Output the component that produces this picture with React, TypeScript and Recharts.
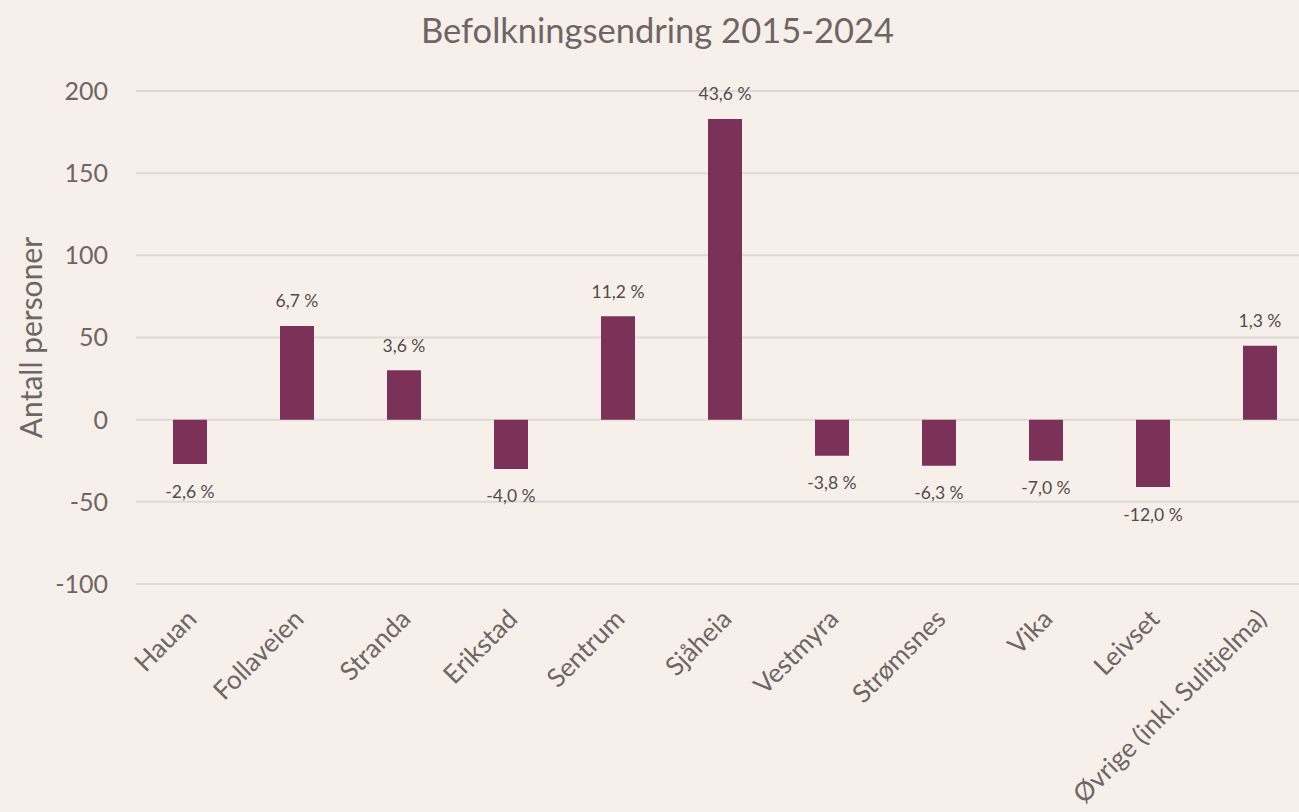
import React from 'react';
import { BarChart, Bar, XAxis, YAxis, CartesianGrid, LabelList } from 'recharts';

const categories = ['Hauan', 'Follaveien', 'Stranda', 'Erikstad', 'Sentrum', 'Sjåheia', 'Vestmyra', 'Strømsnes', 'Vika', 'Leivset', 'Øvrige (inkl. Sulitjelma)'];
const changes = [-27, 57, 30, -30, 63, 183, -22, -28, -25, -41, 45];
const pctLabels = ['-2,6 %', '6,7 %', '3,6 %', '-4,0 %', '11,2 %', '43,6 %', '-3,8 %', '-6,3 %', '-7,0 %', '-12,0 %', '1,3 %'];
const yTicks = [-100, -50, 0, 50, 100, 150, 200];

const data = categories.map((c, i) => ({ name: c, value: changes[i], pct: pctLabels[i] }));

const BG = '#F7F0EA';
const BAR = '#7B3158';
const TXT = '#6F6566';
const LBL = '#544B4C';
const FONT = 'Lato, "Open Sans", sans-serif';

const XTick = (props: any) => {
  const { x, y, payload } = props;
  return (
    <g transform={`translate(${x + 3},${y + 23})`}>
      <text x={0} y={0} dy={8} textAnchor="end" transform="rotate(-45)" fill={TXT} fontSize={26} fontFamily={FONT}>
        {payload.value}
      </text>
    </g>
  );
};

const renderLabel = (props: any) => {
  const { x, y, width, height, index, value } = props;
  const v = changes[index];
  const top = Math.min(y, y + height);
  const bot = Math.max(y, y + height);
  const cy = v >= 0 ? top - 25 : bot + 27;
  return (
    <text x={x + width / 2} y={cy} textAnchor="middle" dominantBaseline="central" fill={LBL} fontSize={17.5} fontFamily={FONT}>
      {value}
    </text>
  );
};

export default function App() {
  return (
    <div style={{ position: 'absolute', left: 0, top: 0, width: 1299, height: 812, overflow: 'hidden', background: BG }}>
      <div style={{ position: 'absolute', left: 0, top: 10, width: 1315, textAlign: 'center', fontFamily: FONT, fontSize: 34.5, color: TXT, lineHeight: '40px' }}>
        Befolkningsendring 2015-2024
      </div>
      <BarChart width={1320} height={812} data={data} margin={{ top: 91, right: 7, left: 0, bottom: 0 }} barSize={34}>
        <CartesianGrid vertical={false} stroke="#DEDAD8" strokeWidth={2} />
        <XAxis dataKey="name" axisLine={false} tickLine={false} height={228} interval={0} tick={<XTick />} />
        <YAxis
          width={136}
          domain={[-100, 200]}
          ticks={yTicks}
          axisLine={false}
          tickLine={false}
          tickSize={0}
          tickMargin={28}
          tick={{ fill: TXT, fontSize: 25, fontFamily: FONT }}
          label={{
            content: (p: any) => {
              const vb = p.viewBox;
              const cx = 30;
              const cy = vb.y + vb.height / 2;
              return (
                <text x={cx} y={cy} transform={`rotate(-90, ${cx}, ${cy})`} textAnchor="middle" dominantBaseline="central" fill={TXT} fontSize={30} fontFamily={FONT}>
                  Antall personer
                </text>
              );
            },
          }}
        />
        <Bar dataKey="value" fill={BAR} isAnimationActive={false}>
          <LabelList dataKey="pct" content={renderLabel} />
        </Bar>
      </BarChart>
    </div>
  );
}
